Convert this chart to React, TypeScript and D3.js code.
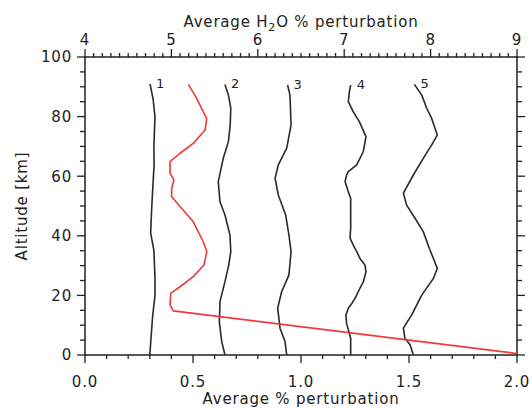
import React from "react";
import * as d3 from "d3";

// profiles: [altitude km, value]
const curve1: [number, number][] = [
  [0, 0.3], [5, 0.305], [13, 0.313], [20, 0.324], [26, 0.324], [35, 0.319], [41, 0.304],
  [48, 0.308], [55, 0.313], [64, 0.32], [70, 0.319], [80, 0.324], [86, 0.315], [91, 0.301],
];
const curve2: [number, number][] = [
  [0, 0.648], [4.5, 0.633], [11, 0.622], [18, 0.625], [24.6, 0.648], [30, 0.665], [34.7, 0.675],
  [40.3, 0.671], [47, 0.648], [51.4, 0.625], [58.2, 0.617], [66, 0.64], [71.6, 0.664], [77, 0.672],
  [82.8, 0.675], [87.2, 0.664], [90.8, 0.648],
];
const curve3: [number, number][] = [
  [0, 0.934], [4.5, 0.926], [9, 0.903], [15.7, 0.892], [21.2, 0.91], [26.8, 0.944], [34.7, 0.954],
  [40.3, 0.944], [47, 0.929], [53.7, 0.895], [59.3, 0.88], [63.8, 0.895], [69.4, 0.934],
  [77.2, 0.954], [87.2, 0.949], [90.6, 0.938],
];
const curve4: [number, number][] = [
  [0, 1.23], [5.6, 1.23], [10.6, 1.211], [13.4, 1.208], [15.7, 1.219], [17.3, 1.235], [19, 1.25],
  [22.4, 1.273], [24.6, 1.289], [28, 1.301], [30.2, 1.296], [32.4, 1.273], [34.7, 1.258],
  [36.9, 1.242], [39.2, 1.227], [42.5, 1.23], [52.6, 1.23], [54.8, 1.219], [58.2, 1.204],
  [60.4, 1.211], [61.5, 1.219], [63.8, 1.258], [68.2, 1.288], [73.3, 1.301], [78.3, 1.27],
  [81.6, 1.242], [85, 1.219], [88.4, 1.224], [90.6, 1.23],
];
const curve5: [number, number][] = [
  [0, 1.52], [3.4, 1.505], [5.6, 1.481], [9, 1.474], [13.4, 1.512], [20.1, 1.559], [25.7, 1.613],
  [29.1, 1.631], [35.8, 1.594], [41.4, 1.566], [45.9, 1.528], [50.3, 1.489], [54.3, 1.474],
  [60.4, 1.52], [66, 1.566], [70.5, 1.605], [73.8, 1.631], [79.4, 1.605], [82.8, 1.582],
  [87.2, 1.559], [90.8, 1.525],
];
// H2O profile, top axis units
const h2o: [number, number][] = [
  [0.5, 9.0], [14.8, 5.022], [16.8, 4.984], [20.7, 4.992], [22.9, 5.1], [26.3, 5.253], [30.2, 5.377],
  [34.7, 5.409], [38, 5.369], [44.7, 5.253], [49.8, 5.1], [53.1, 5.003], [55.9, 5.003], [58.7, 5.03],
  [61, 4.984], [64.9, 4.984], [67.7, 5.1], [71, 5.253], [75.5, 5.389], [79.4, 5.409], [81.6, 5.369],
  [86.1, 5.293], [90.8, 5.196],
];
const curves = [curve1, curve2, curve3, curve4, curve5];
const curveLabels = ["1", "2", "3", "4", "5"];

const bottomTicks = [0, 0.5, 1, 1.5, 2];
const topTicks = [4, 5, 6, 7, 8, 9];
const altTicks = [0, 20, 40, 60, 80, 100];

const font = "'DejaVu Sans', sans-serif";

export default function App() {
  const width = 531;
  const height = 409;
  const left = 85, right = 517, top = 57, bottom = 355;

  const x = d3.scaleLinear().domain([0, 2]).range([left, right]);
  const xTop = d3.scaleLinear().domain([4, 9]).range([left, right]);
  const y = d3.scaleLinear().domain([0, 100]).range([bottom, top]);

  const line = d3.line<[number, number]>().x(d => x(d[1])).y(d => y(d[0]));
  const lineTop = d3.line<[number, number]>().x(d => xTop(d[1])).y(d => y(d[0]));

  const bottomMinor = x.ticks(20);
  const topMinor = xTop.ticks(50);
  const altMinor = y.ticks(20);

  const txt = { fontFamily: font, fontSize: 15, fill: "#222", letterSpacing: 0.8 };

  return (
    <svg width={width} height={height} style={{ position: "fixed", left: 0, top: 0, background: "#fff" }}>
      {/* ticks */}
      <g stroke="#222" strokeWidth={1.3}>
        {bottomMinor.map((t, i) => {
          const major = bottomTicks.some(m => Math.abs(m - t) < 1e-6);
          return <line key={"b" + i} x1={x(t)} x2={x(t)} y1={bottom} y2={bottom + (major ? 8 : 4)} />;
        })}
        {topMinor.map((t, i) => {
          const major = topTicks.some(m => Math.abs(m - t) < 1e-6);
          return <line key={"t" + i} x1={xTop(t)} x2={xTop(t)} y1={top} y2={top - (major ? 8 : 4)} />;
        })}
        {altMinor.map((t, i) => {
          const major = altTicks.includes(t);
          return (
            <g key={"a" + i}>
              <line x1={left} x2={left - (major ? 8 : 5)} y1={y(t)} y2={y(t)} />
              <line x1={right} x2={right + (major ? 8 : 5)} y1={y(t)} y2={y(t)} />
            </g>
          );
        })}
      </g>
      <rect x={left} y={top} width={right - left} height={bottom - top} fill="none" stroke="#222" strokeWidth={1.5} />

      {/* tick labels */}
      {bottomTicks.map(t => (
        <text key={"bl" + t} x={x(t)} y={387} textAnchor="middle" {...txt}>{t.toFixed(1)}</text>
      ))}
      {topTicks.map(t => (
        <text key={"tl" + t} x={xTop(t)} y={45} textAnchor="middle" {...txt}>{t}</text>
      ))}
      {altTicks.map(t => (
        <text key={"al" + t} x={72} y={y(t)} dy="0.36em" textAnchor="end" {...txt}>{t}</text>
      ))}

      {/* titles */}
      <text x={301} y={404} textAnchor="middle" {...txt}>Average % perturbation</text>
      <text x={301} y={27} textAnchor="middle" {...txt}>
        Average H<tspan dy={4} fontSize={11}>2</tspan><tspan dy={-4}>O % perturbation</tspan>
      </text>
      <text transform={`translate(27,${(top + bottom) / 2}) rotate(-90)`} textAnchor="middle" {...txt}>
        Altitude [km]
      </text>

      {/* profiles */}
      {curves.map((c, i) => (
        <path key={"c" + i} d={line(c) ?? ""} fill="none" stroke="#2a2a2a" strokeWidth={1.6} strokeLinejoin="round" />
      ))}
      {curves.map((c, i) => {
        const last = c[c.length - 1];
        return (
          <text key={"cl" + i} x={x(last[1]) + 6} y={y(last[0]) + 4} fontFamily={font} fontSize={13} fill="#222">
            {curveLabels[i]}
          </text>
        );
      })}
      <path d={lineTop(h2o) ?? ""} fill="none" stroke="#ee3a3a" strokeWidth={1.6} strokeLinejoin="round" />
    </svg>
  );
}
